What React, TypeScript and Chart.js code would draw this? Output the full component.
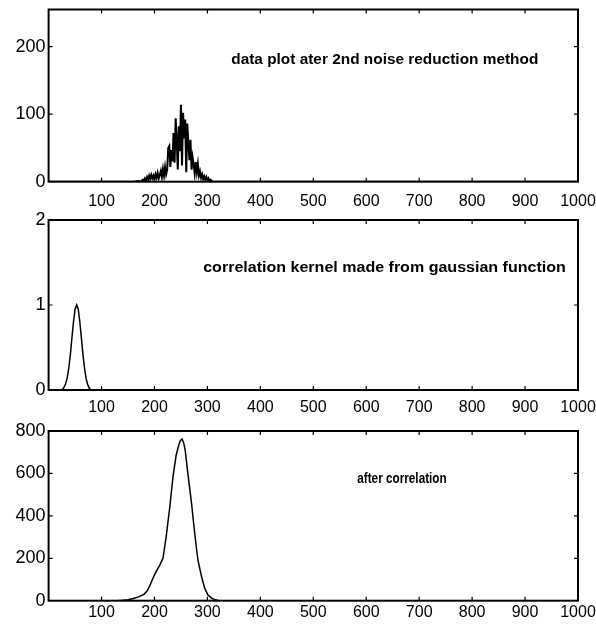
import React, { useEffect, useRef } from "react";
import { Chart, registerables } from "chart.js";
Chart.register(...registerables);

// ---- data ----
const noiseX = [0, 160, 170, 174, 178, 180, 182, 184, 186, 188, 190, 192, 194, 196, 198, 200, 202, 204, 206, 208, 210, 212, 214, 216, 218, 220, 222, 224, 226, 228, 230, 232, 234, 236, 238, 240, 242, 244, 246, 248, 250, 252, 254, 256, 258, 260, 262, 264, 266, 268, 270, 272, 274, 276, 278, 280, 282, 284, 286, 288, 290, 292, 294, 296, 298, 300, 302, 304, 306, 310, 1000];
const noiseY = [0, 0, 1, 0, 3, 1, 5, 2, 7, 3, 9, 4, 10, 5, 9, 3, 11, 6, 13, 5, 10, 16, 7, 19, 9, 22, 11, 18, 50, 53, 22, 47, 30, 72, 28, 94, 62, 18, 82, 45, 114, 24, 102, 64, 92, 14, 86, 56, 32, 62, 18, 36, 26, 12, 29, 14, 26, 9, 15, 6, 11, 4, 8, 3, 7, 2, 5, 1, 3, 0, 0];

const kernelX = [0, 26, 29, 32, 35, 38, 41, 44, 47, 50, 53, 56, 59, 62, 65, 68, 71, 74, 77, 80, 1000];
const kernelY = [0, 0, 0.03, 0.07, 0.14, 0.25, 0.41, 0.61, 0.8, 0.95, 1.0, 0.95, 0.8, 0.61, 0.41, 0.25, 0.13, 0.06, 0.02, 0, 0];

const corrX = [0, 130, 140, 150, 160, 170, 180, 186, 191, 197, 203, 210, 216, 222, 229, 235, 241, 246, 249, 252, 255, 258, 263, 270, 276, 282, 289, 295, 301, 308, 315, 322, 1000];
const corrY = [0, 0, 2, 5, 10, 18, 30, 45, 70, 105, 137, 168, 200, 300, 443, 585, 687, 735, 755, 762, 745, 710, 600, 459, 318, 192, 113, 58, 27, 12, 4, 0, 0];

const xTickStep = 100;
const titles = [
  "data plot ater 2nd noise reduction method",
  "correlation kernel made from gaussian function",
  "after correlation",
];

const toPoints = (xs: number[], ys: number[]) => xs.map((x, i) => ({ x, y: ys[i] }));

const framePlugin = {
  id: "frame",
  afterDatasetsDraw(chart: any, _args: any, opts: any) {
    const { ctx, chartArea: a, scales } = chart;
    ctx.save();
    ctx.strokeStyle = "#000";
    ctx.lineWidth = 2;
    ctx.strokeRect(a.left, a.top, a.right - a.left, a.bottom - a.top);
    ctx.lineWidth = 1.2;
    const len = 4;
    ctx.beginPath();
    scales.x.ticks.forEach((t: any) => {
      const px = scales.x.getPixelForValue(t.value);
      if (px <= a.left + 1 || px >= a.right - 1) return;
      ctx.moveTo(px, a.bottom);
      ctx.lineTo(px, a.bottom - len);
      ctx.moveTo(px, a.top);
      ctx.lineTo(px, a.top + len);
    });
    scales.y.ticks.forEach((t: any) => {
      const py = scales.y.getPixelForValue(t.value);
      if (py <= a.top + 1 || py >= a.bottom - 1) return;
      ctx.moveTo(a.left, py);
      ctx.lineTo(a.left + len, py);
      ctx.moveTo(a.right, py);
      ctx.lineTo(a.right - len, py);
    });
    ctx.stroke();
    if (opts && opts.text) {
      const x1 = scales.x.getPixelForValue(opts.x1);
      const x2 = scales.x.getPixelForValue(opts.x2);
      const y = scales.y.getPixelForValue(opts.y);
      ctx.font = "bold 15px 'Liberation Sans', Arial, sans-serif";
      ctx.fillStyle = "#000";
      ctx.textBaseline = "middle";
      ctx.textAlign = "left";
      const w = ctx.measureText(opts.text).width;
      const sx = (x2 - x1) / w;
      ctx.translate(x1, y);
      ctx.scale(sx, 1);
      ctx.fillText(opts.text, 0, 0);
    }
    ctx.restore();
  },
};

type Cfg = {
  xs: number[];
  ys: number[];
  yMax: number;
  yStep: number;
  height: number;
  padTop: number;
  axisH: number;
  labelPad: number;
  lineW: number;
  note: { text: string; x1: number; x2: number; y: number };
};

function Panel({ cfg, top }: { cfg: Cfg; top: number }) {
  const ref = useRef<HTMLCanvasElement>(null);
  useEffect(() => {
    if (!ref.current) return;
    const chart = new Chart(ref.current, {
      type: "line",
      data: {
        datasets: [
          {
            data: toPoints(cfg.xs, cfg.ys),
            borderColor: "#000",
            borderWidth: cfg.lineW,
            pointRadius: 0,
            tension: 0,
            fill: false,
          },
        ],
      },
      options: {
        responsive: false,
        animation: false,
        devicePixelRatio: 1,
        layout: { padding: { top: cfg.padTop, right: 18, left: 0, bottom: 0 } },
        plugins: {
          legend: { display: false },
          tooltip: { enabled: false },
          frame: cfg.note,
        } as any,
        scales: {
          x: {
            type: "linear",
            min: 0,
            max: 1000,
            grid: { display: false, drawTicks: false },
            border: { display: false },
            ticks: {
              stepSize: xTickStep,
              padding: cfg.labelPad,
              color: "#000",
              maxRotation: 0,
              autoSkip: false,
              font: { family: "'Liberation Sans', Arial, sans-serif", size: 16 },
              callback: (v: any) => (v === 0 ? "" : String(v)),
            },
            afterFit: (s: any) => {
              s.height = cfg.axisH;
              s.paddingLeft = 0;
              s.paddingRight = 0;
            },
          },
          y: {
            type: "linear",
            min: 0,
            max: cfg.yMax,
            grid: { display: false, drawTicks: false },
            border: { display: false },
            afterBuildTicks: (s: any) => {
              s.ticks = s.ticks.filter((t: any) => Math.abs(t.value / cfg.yStep - Math.round(t.value / cfg.yStep)) < 1e-6);
            },
            ticks: {
              stepSize: cfg.yStep,
              padding: 3,
              color: "#000",
              font: { family: "'Liberation Sans', Arial, sans-serif", size: 18 },
            },
            afterFit: (s: any) => {
              s.width = 48.6;
              s.paddingTop = 0;
              s.paddingBottom = 0;
            },
          },
        },
      },
      plugins: [framePlugin as any],
    });
    return () => chart.destroy();
  }, []);
  return (
    <canvas
      ref={ref}
      width={596}
      height={cfg.height}
      style={{ position: "absolute", left: 0, top, width: 596, height: cfg.height }}
    />
  );
}

const panels: { cfg: Cfg; top: number }[] = [
  {
    top: 0,
    cfg: {
      xs: noiseX, ys: noiseY, yMax: 255, yStep: 100, height: 212, padTop: 9.5, axisH: 30.3, labelPad: 10, lineW: 2,
      note: { text: titles[0], x1: 345, x2: 925, y: 180 },
    },
  },
  {
    top: 212,
    cfg: {
      xs: kernelX, ys: kernelY, yMax: 2, yStep: 1, height: 210, padTop: 8, axisH: 32, labelPad: 8, lineW: 1.5,
      note: { text: titles[1], x1: 292, x2: 977, y: 1.435 },
    },
  },
  {
    top: 422,
    cfg: {
      xs: corrX, ys: corrY, yMax: 800, yStep: 200, height: 210, padTop: 9, axisH: 31.3, labelPad: 2, lineW: 1.5,
      note: { text: titles[2], x1: 583, x2: 752, y: 575 },
    },
  },
];

export default function App() {
  return (
    <div style={{ position: "fixed", left: 0, top: 0, width: 596, height: 632, background: "#fff" }}>
      {panels.map((p, i) => (
        <Panel key={i} cfg={p.cfg} top={p.top} />
      ))}
    </div>
  );
}
